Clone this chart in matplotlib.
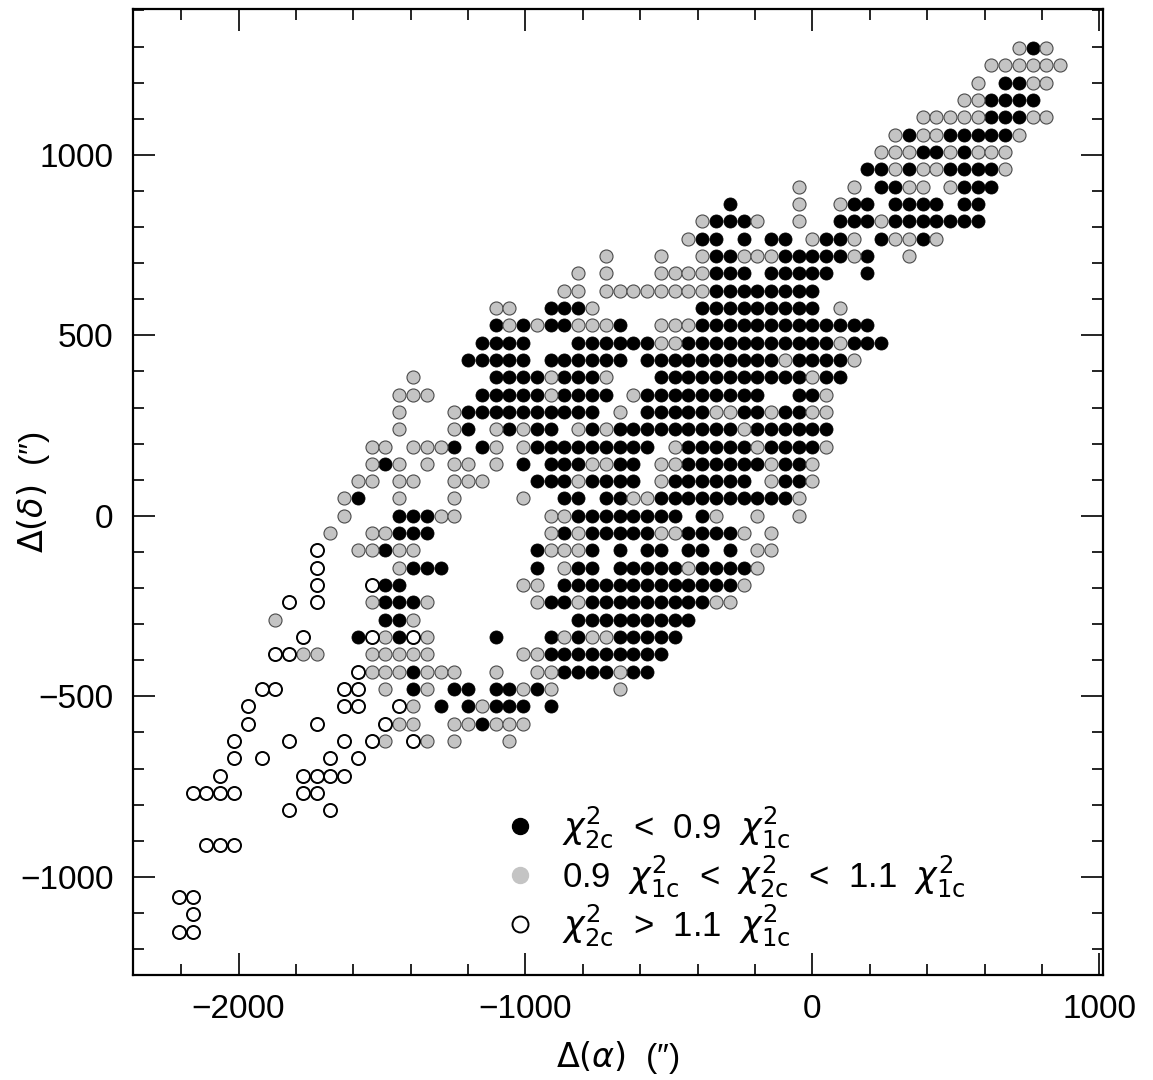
import matplotlib
matplotlib.use('Agg')
import matplotlib.pyplot as plt
from matplotlib.ticker import MultipleLocator
from matplotlib.lines import Line2D

plt.rcParams['font.family'] = ['Liberation Sans', 'DejaVu Sans']
plt.rcParams['mathtext.fontset'] = 'dejavusans'

# offsets lie on a regular grid (arcsec)
step = 48

# one entry per grid row: row index (dec = row * step), first column (ra = col * step),
# then one character per column: b = chi2_2c < 0.9 chi2_1c, g = in between, o = > 1.1, . = none
row_idx = [27, 26, 25, 24, 23, 22, 21, 20, 19, 18, 17, 16, 15, 14, 13, 12, 11, 10, 9, 8,
           7, 6, 5, 4, 3, 2, 1, 0, -1, -2, -3, -4, -5, -6, -7, -8, -9, -10, -11, -12,
           -13, -14, -15, -16, -17, -19, -22, -23, -24]
first_col = [15, 13, 12, 11, 8, 6, 5, 4, -1, -6, -8, -9, -15, -17, -18, -23, -23, -24, -25, -29,
             -30, -30, -30, -32, -32, -33, -34, -34, -35, -36, -36, -36, -38, -39, -37, -39, -33, -40, -41, -41,
             -42, -42, -43, -45, -38, -44, -46, -45, -46]
patterns = [
    "gbg",
    "gggggg",
    "g.bbgg",
    "ggbbbb",
    "gggggbbbgg",
    "gbggbbbbbg",
    "gggbbgbggg",
    "bbgbggbbbbg",
    "g...g.bbgg.gbbb",
    "b....g..gbb.bbbb.bb",
    "gbbbg..g..bbbgbbbbbbb",
    "gbb.b.bb.gbbg.bggbg",
    "g...g..gbbgggbbbbbgb..g",
    "g.g...ggggbbb.bbbbb..b",
    "gg.ggggggggbbbbbbbb",
    "gg..bbbg.......bbbbbbbbb.g",
    "bgbgbbgggb..gggbbbbbbbbbbbbb",
    "bbbb...bbbbbbggbbbbbbbbbbbgbbb",
    "bbbbb.bbbbbb.bbbbbbbbbbgbbbbg",
    "g.....bbbbgbbbg...bbbbbbbbbbbgbb",
    "ggg...bbbbbgbbbb.gbbbbbbbbb..bbg",
    "g...gbbbbbbbbbb.g.bbbbbggbbgbbgg",
    "g...gb.gbgbb.gbgbbbbbbbbbgbbbbbb",
    "gg.gggb.bg.gbbbbbbbbb.gbbbbbgbbbbg",
    "gbg.g.gg.g.b.bbbggbb.ggbbbbbbgbbg",
    "gg.gg..ggg...bbbgbbbb.gbbbbbb.gbbg",
    "gb..g...g....g..bb.bbggbbbbbbbbbbg",
    "g...bbbgg......ggbbbbbbbb.bg..g..g",
    "g..ggbbb........gbgbbbbbggbbbbg.g",
    "o..ggbgg........bgggb.b.bb.bb.b.gg",
    "o.....gbbb......b.gbb.bbbbbgbbbbg",
    "o...obb........gg.bbbbbbbbbbbbbg",
    "o.o...gbbbg.......gbbgbbbbbbbbbgg",
    "g.......bbg...........bbbbbbbbb",
    "o...bogbog....b...bgbggbbbbb",
    "oogg...ggggg......ggbbbbbbbbb",
    "ogggbggg..g..ggbbbbgbb",
    "oo....oo.g.bg.bb.bbgbg....g",
    "o......oo..og.b.bgbbb.b",
    "o....o....ogg..ggbggg",
    "o...o...o.og.og.g...g",
    "o.o....o.o",
    "o.....oooo",
    "oooo....oo",
    "o..o",
    "ooo",
    "oo",
    "o",
    "oo",
]

legend_labels = [
    r'$\chi^2_{\rm 2c}$  <  0.9  $\chi^2_{\rm 1c}$',
    r'0.9  $\chi^2_{\rm 1c}$  <  $\chi^2_{\rm 2c}$  <  1.1  $\chi^2_{\rm 1c}$',
    r'$\chi^2_{\rm 2c}$  >  1.1  $\chi^2_{\rm 1c}$',
]

# split the grid into the three classes
pts = {'b': ([], []), 'g': ([], []), 'o': ([], [])}
for r, c0, pat in zip(row_idx, first_col, patterns):
    for k, ch in enumerate(pat):
        if ch in pts:
            pts[ch][0].append((c0 + k) * step)
            pts[ch][1].append(r * step)

fig = plt.figure(figsize=(11.53, 10.8), dpi=100)
ax = fig.add_axes([133 / 1153, 1 - 975 / 1080, 970 / 1153, 966 / 1080])

msize = 88
ax.scatter(*pts['b'], s=msize, c='black', edgecolors='black', linewidths=0.6, zorder=3)
ax.scatter(*pts['g'], s=msize, c='#c4c4c4', edgecolors='#4a4a4a', linewidths=0.8, zorder=3)
ax.scatter(*pts['o'], s=msize, c='white', edgecolors='black', linewidths=1.4, zorder=3)

ax.set_xlim(-2368, 1013)
ax.set_ylim(-1272, 1404)

ax.xaxis.set_major_locator(MultipleLocator(1000))
ax.xaxis.set_minor_locator(MultipleLocator(200))
ax.yaxis.set_major_locator(MultipleLocator(500))
ax.yaxis.set_minor_locator(MultipleLocator(100))
ax.tick_params(which='both', direction='in', top=True, right=True, width=1.2,
               labelsize=24, colors='black')
ax.tick_params(which='major', length=16, pad=14)
ax.tick_params(which='minor', length=8)
for sp in ax.spines.values():
    sp.set_linewidth(1.6)

ax.set_xlabel(r'$\Delta(\alpha)$  (″)', fontsize=24, labelpad=10)
ax.set_ylabel(r'$\Delta(\delta)$  (″)', fontsize=24)
ax.yaxis.set_label_coords(-0.084, 0.5)

handles = [
    Line2D([], [], ls='none', marker='o', ms=11.5, mfc='black', mec='black'),
    Line2D([], [], ls='none', marker='o', ms=11.5, mfc='#c4c4c4', mec='#c4c4c4'),
    Line2D([], [], ls='none', marker='o', ms=11.5, mfc='white', mec='black', mew=1.4),
]
ax.legend(handles, legend_labels, loc='upper left', bbox_to_anchor=(0.381, 0.176),
          frameon=False, fontsize=25, borderpad=0, borderaxespad=0, handlelength=1.0,
          handletextpad=0.71, labelspacing=0.1)

fig.savefig('out.png', dpi=100)
